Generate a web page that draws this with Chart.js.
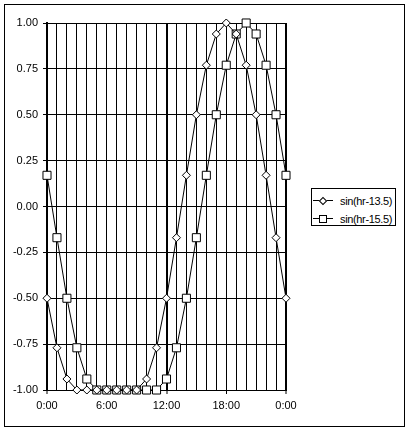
<!DOCTYPE html>
<html>
<head>
<meta charset="utf-8">
<script src="https://cdn.jsdelivr.net/npm/chart.js@4.4.1/dist/chart.umd.min.js"></script>
<style>
  body { margin: 0; background: #fff; }
  #wrap { position: relative; width: 410px; height: 431px; }
  #frame {
    position: absolute; left: 4px; top: 4px; width: 401px; height: 423px;
    border: 1px solid #000; box-sizing: border-box; pointer-events: none;
  }
  #legend {
    position: absolute; left: 311px; top: 188px; width: 85px; height: 38px;
    border: 1px solid #000; box-sizing: border-box; background: #fff;
    font: 11px "Liberation Sans", Arial, sans-serif; color: #000;
    padding-top: 3px; white-space: nowrap; overflow: visible;
  }
  .row { display: flex; align-items: center; height: 18px; }
  .row .txt { letter-spacing: -0.35px; }
  .sample { position: relative; flex: none; width: 20px; height: 10px; margin-left: 1px; margin-right: 7px; }
  .sample::before {
    content: ""; position: absolute; left: 0; right: 0; top: 4px; border-top: 1px solid #000;
  }
  .mk { position: absolute; background: #fff; border: 1px solid #000; box-sizing: border-box; }
  .mk.diamond { width: 6px; height: 6px; left: 7px; top: 1.5px; transform: rotate(45deg); }
  .mk.square { width: 8px; height: 8px; left: 6px; top: 0.5px; }
</style>
</head>
<body>
<div id="wrap">
  <canvas id="chart" width="410" height="431"></canvas>
  <div id="frame"></div>
  <div id="legend"></div>
</div>
<script>
// Datos (una muestra por hora, 0 a 24)
const hours = [0, 1, 2, 3, 4, 5, 6, 7, 8, 9, 10, 11, 12, 13, 14, 15, 16, 17, 18, 19, 20, 21, 22, 23, 24];
const sin135 = [-0.5, -0.77, -0.94, -1, -1, -1, -1, -1, -1, -1, -0.94, -0.77, -0.5, -0.17, 0.17, 0.5, 0.77, 0.94, 1, 0.94, 0.77, 0.5, 0.17, -0.17, -0.5];
const sin155 = [0.17, -0.17, -0.5, -0.77, -0.94, -1, -1, -1, -1, -1, -1, -1, -0.94, -0.77, -0.5, -0.17, 0.17, 0.5, 0.77, 0.94, 1, 0.94, 0.77, 0.5, 0.17];
const seriesNames = ["sin(hr-13.5)", "sin(hr-15.5)"];
const xTickLabels = ["0:00", "6:00", "12:00", "18:00", "0:00"];
const yMin = -1, yMax = 1, yStep = 0.25;

const FONT = { family: "'Liberation Sans', Arial, sans-serif", size: 11 };

function toPoints(values) {
  return hours.map((h, i) => ({ x: h, y: values[i] }));
}

// Leyenda en HTML (línea + marcador)
function buildLegend() {
  const legend = document.getElementById("legend");
  const markers = ["diamond", "square"];
  seriesNames.forEach((name, i) => {
    const row = document.createElement("div");
    row.className = "row";
    row.innerHTML = `<span class="sample"><span class="mk ${markers[i]}"></span></span><span class="txt">${name}</span>`;
    legend.appendChild(row);
  });
}

function drawChart() {
  const ctx = document.getElementById("chart").getContext("2d");

  new Chart(ctx, {
    type: "line",
    data: {
      datasets: [
        {
          label: seriesNames[0],
          data: toPoints(sin135),
          borderColor: "#000",
          borderWidth: 1,
          pointStyle: "rectRot",
          pointRadius: 4,
          pointBackgroundColor: "#fff",
          pointBorderColor: "#000",
          pointBorderWidth: 1,
          tension: 0,
          clip: false,
        },
        {
          label: seriesNames[1],
          data: toPoints(sin155),
          borderColor: "#000",
          borderWidth: 1,
          pointStyle: "rect",
          pointRadius: 5.7,
          pointBackgroundColor: "#fff",
          pointBorderColor: "#000",
          pointBorderWidth: 1,
          tension: 0,
          clip: false,
        },
      ],
    },
    options: {
      responsive: false,
      animation: false,
      devicePixelRatio: 1,
      layout: { padding: { left: 0, top: 23, right: 124, bottom: 0 } },
      plugins: {
        legend: { display: false },
        tooltip: { enabled: false },
      },
      scales: {
        x: {
          type: "linear",
          min: 0,
          max: 24,
          afterFit: (scale) => { scale.height = 41; },
          ticks: {
            stepSize: 1,
            autoSkip: false,
            maxRotation: 0,
            padding: 5,
            color: "#000",
            font: FONT,
            callback: (v) => (v % 6 === 0 ? xTickLabels[v / 6] : ""),
          },
          grid: {
            color: "#000",
            lineWidth: (c) => (c.tick && c.tick.value % 12 === 0 ? 2 : 1),
            tickLength: 4,
            tickWidth: 1,
            tickColor: (c) => (c.tick && c.tick.value % 6 === 0 ? "#000" : "rgba(0,0,0,0)"),
          },
          border: { display: true, color: "#000", width: 1 },
        },
        y: {
          min: yMin,
          max: yMax,
          afterFit: (scale) => { scale.width = 47; },
          ticks: {
            stepSize: yStep,
            padding: 5,
            color: "#000",
            font: FONT,
            callback: (v) => v.toFixed(2),
          },
          grid: {
            color: "#000",
            lineWidth: 1,
            tickLength: 4,
          },
          border: { display: true, color: "#000", width: 2 },
        },
      },
    },
  });
}

document.addEventListener("DOMContentLoaded", () => {
  buildLegend();
  drawChart();
});
</script>
</body>
</html>
